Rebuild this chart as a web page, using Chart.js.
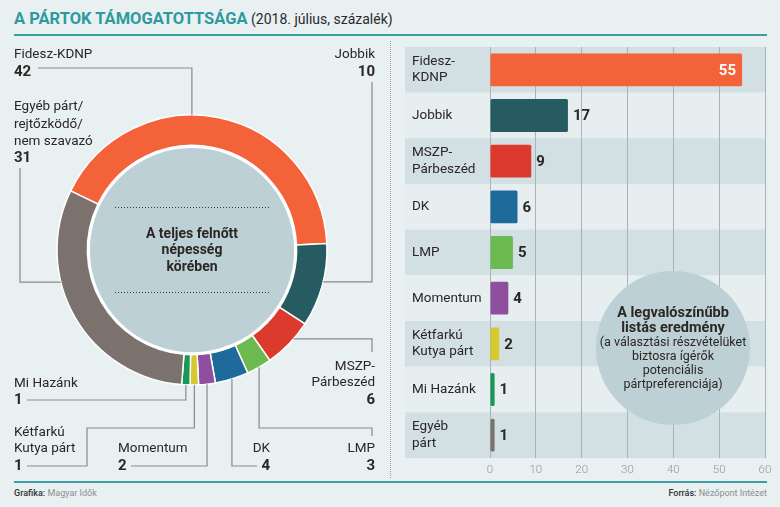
<!DOCTYPE html>
<html><head><meta charset="utf-8">
<script src="https://cdn.jsdelivr.net/npm/chart.js@4/dist/chart.umd.min.js"></script>
<style>
html,body{margin:0;padding:0;}
body{width:780px;height:507px;background:#e9f0f2;position:relative;overflow:hidden;font-family:Roboto,sans-serif;}
#title{position:absolute;left:14px;top:8px;white-space:nowrap;color:#2a2a2a;font-size:14px;line-height:21px;}
#title b{color:#2e9a9d;font-size:16.5px;font-weight:700;letter-spacing:0;}
.rule{position:absolute;left:14px;width:753px;height:2px;background:#3d9ea3;}
#sep{position:absolute;left:390px;top:41px;height:437px;border-left:1px dotted #98a3a6;}
#c1{position:absolute;left:0;top:0;}
#c2{position:absolute;left:390px;top:0;}
.foot{position:absolute;top:488px;font-size:9px;color:#8a8f91;white-space:nowrap;}
.foot b{color:#333;font-weight:500;}
</style></head>
<body>
<div id="title"><b>A PÁRTOK TÁMOGATOTTSÁGA</b> (2018. július, százalék)</div>
<div class="rule" style="top:34px"></div>
<div id="sep"></div>
<canvas id="c1" width="390" height="480"></canvas>
<canvas id="c2" width="390" height="480"></canvas>
<div class="rule" style="top:481px"></div>
<div class="foot" style="left:14px"><b>Grafika:</b> Magyar Idők</div>
<div class="foot" style="right:13px"><b>Forrás:</b> Nézőpont Intézet</div>
<script>
// ---- data ----
const donutNames = ['Fidesz-KDNP','Jobbik','MSZP-Párbeszéd','LMP','DK','Momentum','Kétfarkú Kutya párt','Mi Hazánk','Egyéb párt/rejtőzködő/nem szavazó'];
const donutNameLines = [['Fidesz-KDNP'],['Jobbik'],['MSZP-','Párbeszéd'],['LMP'],['DK'],['Momentum'],['Kétfarkú','Kutya párt'],['Mi Hazánk'],['Egyéb párt/','rejtőzködő/','nem szavazó']];
const donutValues = [42,10,6,3,4,2,1,1,31];
const barLabels = [['Fidesz-','KDNP'],['Jobbik'],['MSZP-','Párbeszéd'],['DK'],['LMP'],['Momentum'],['Kétfarkú','Kutya párt'],['Mi Hazánk'],['Egyéb','párt']];
const barValues = [55,17,9,6,5,4,2,1,1];
const xTicks = [0,10,20,30,40,50,60];
const donutCenterText = ['A teljes felnőtt','népesség','körében'];
const noteBold = ['A legvalószínűbb','listás eredmény'];
const noteText = ['(a választási részvételüket','biztosra ígérők','potenciális','pártpreferenciája)'];

// ---- styles ----
const C = {fidesz:'#f4623a', jobbik:'#265b61', mszp:'#db3a2d', lmp:'#6cb94f', dk:'#1e6a9b', mom:'#8f4f9f', kkp:'#d5c92e', mih:'#17975a', other:'#7b726e'};
const donutColors = [C.fidesz,C.jobbik,C.mszp,C.lmp,C.dk,C.mom,C.kkp,C.mih,C.other];
const barColors = [C.fidesz,C.jobbik,C.mszp,C.dk,C.lmp,C.mom,C.kkp,C.mih,C.other];
const FONT = 'Roboto';
const TXT = '#2b2724';

// leader line layout: fraction along arc, path moves, label position
const leaders = [
 {f:0.423, path:[['v',68],['h',38]], x:14, align:'left', ly:[55], ny:72},
 {f:0.458, path:[['h',372],['v',82]], x:375, align:'right', ly:[55], ny:72},
 {f:0.37, path:[['h',372],['v',352]], x:375, align:'right', ly:[367,383], ny:400},
 {f:0.5, path:[['v',428],['h',372],['v',436]], x:375, align:'right', ly:[449], ny:466},
 {f:0.5, path:[['v',466],['h',257]], x:270, align:'right', ly:[449], ny:466},
 {f:0.5, path:[['v',466],['h',131]], x:118, align:'left', ly:[449], ny:466},
 {f:0.5, path:[['v',428],['h',87],['v',466],['h',27]], x:14, align:'left', ly:[433,449], ny:466},
 {f:0.5, path:[['v',400],['h',27]], x:14, align:'left', ly:[384], ny:400},
 {f:0.644, path:[['h',20],['v',168]], x:14, align:'left', ly:[107,125,142], ny:158}
];

const donutDecor = {
  id:'donutDecor',
  beforeDatasetsDraw(chart){
    const arc = chart.getDatasetMeta(0).data[0];
    const {x,y,innerRadius} = arc.getProps(['x','y','innerRadius'],true);
    const ctx = chart.ctx; ctx.save();
    ctx.fillStyle='#ffffff'; ctx.beginPath(); ctx.arc(x,y,innerRadius,0,Math.PI*2); ctx.fill();
    ctx.fillStyle='#bdd0d5'; ctx.beginPath(); ctx.arc(x,y,innerRadius-2.5,0,Math.PI*2); ctx.fill();
    ctx.restore();
  },
  afterDraw(chart){
    const ctx = chart.ctx; const meta = chart.getDatasetMeta(0);
    ctx.save();
    const a0 = meta.data[0].getProps(['x','y','innerRadius','outerRadius'],true);
    ctx.strokeStyle='#3b3b3b'; ctx.lineWidth=1; ctx.setLineDash([1,2]);
    [-43,42].forEach(dy=>{ctx.beginPath();ctx.moveTo(a0.x-77,a0.y+dy+0.5);ctx.lineTo(a0.x+78,a0.y+dy+0.5);ctx.stroke();});
    ctx.setLineDash([]);
    ctx.fillStyle=TXT; ctx.textAlign='center'; ctx.textBaseline='middle';
    ctx.font='700 14px '+FONT;
    donutCenterText.forEach((t,i)=>ctx.fillText(t,a0.x,a0.y-16+i*16.5));
    ctx.strokeStyle='#858b8d'; ctx.lineWidth=1.2;
    meta.data.forEach((el,i)=>{
      const L = leaders[i];
      const p = el.getProps(['x','y','startAngle','endAngle','outerRadius'],true);
      const ang = p.startAngle + (p.endAngle-p.startAngle)*L.f;
      let cx = p.x + Math.cos(ang)*p.outerRadius, cy = p.y + Math.sin(ang)*p.outerRadius;
      ctx.beginPath(); ctx.moveTo(cx,cy);
      L.path.forEach(([d,v])=>{ if(d==='v') cy=v; else cx=v; ctx.lineTo(cx,cy); });
      ctx.stroke();
      ctx.textAlign=L.align; ctx.fillStyle=TXT;
      ctx.font='400 13.5px '+FONT;
      donutNameLines[i].forEach((t,k)=>ctx.fillText(t,L.x,L.ly[k]));
      ctx.font='700 15px '+FONT;
      ctx.fillText(String(donutValues[i]),L.x,L.ny);
    });
    ctx.restore();
  }
};

new Chart(document.getElementById('c1'),{
  type:'doughnut',
  data:{labels:donutNames,datasets:[{data:donutValues,backgroundColor:donutColors,borderColor:'#ffffff',borderWidth:1.5,radius:135,cutout:'77.5%',rotation:-64}]},
  options:{responsive:false,animation:false,layout:{padding:{left:0,right:6,top:20,bottom:0}},
    plugins:{legend:{display:false},tooltip:{enabled:false}}},
  plugins:[donutDecor]
});

const barDecor = {
  id:'barDecor',
  beforeDraw(chart){
    const ctx=chart.ctx, ys=chart.scales.y, ca=chart.chartArea;
    const h = ys.getPixelForValue(1)-ys.getPixelForValue(0);
    ctx.save();
    barValues.forEach((v,i)=>{
      const yc = ys.getPixelForValue(i);
      ctx.fillStyle = i%2===0 ? '#d2dfe3' : '#e6eef0';
      ctx.fillRect(15, yc-h/2, ca.right-15, h);
    });
    ctx.restore();
  },
  afterDatasetsDraw(chart){
    const ctx=chart.ctx, meta=chart.getDatasetMeta(0);
    ctx.save();
    ctx.font='700 15px '+FONT; ctx.textBaseline='middle';
    meta.data.forEach((b,i)=>{
      if(i===0){ctx.fillStyle='#ffffff';ctx.textAlign='right';ctx.fillText(String(barValues[i]),b.x-6,b.y+1);}
      else {ctx.fillStyle=TXT;ctx.textAlign='left';ctx.fillText(String(barValues[i]),b.x+5,b.y+1);}
    });
    const cx=283, cy=348;
    ctx.fillStyle='#bdd0d5'; ctx.beginPath(); ctx.arc(cx,cy,77,0,Math.PI*2); ctx.fill();
    ctx.fillStyle=TXT; ctx.textAlign='center';
    ctx.font='700 14.5px '+FONT;
    noteBold.forEach((t,i)=>ctx.fillText(t,cx,313+i*15.5));
    ctx.font='400 12.5px '+FONT;
    noteText.forEach((t,i)=>ctx.fillText(t,cx,343+i*14));
    ctx.restore();
  }
};

new Chart(document.getElementById('c2'),{
  type:'bar',
  data:{labels:barLabels,datasets:[{data:barValues,backgroundColor:barColors,barPercentage:0.72,categoryPercentage:1,borderRadius:1.5,borderSkipped:false}]},
  options:{indexAxis:'y',responsive:false,animation:false,
    layout:{padding:{top:47,right:15,left:22,bottom:0}},
    scales:{
      x:{min:0,max:60,afterBuildTicks(s){s.ticks=xTicks.map(v=>({value:v}));},
         ticks:{color:'#8d979b',font:{family:FONT,size:11.5,weight:300},padding:5},
         grid:{color:'#a9b4b8',lineWidth:1,drawTicks:false},border:{display:false},
         afterFit(s){s.height=22;}},
      y:{ticks:{crossAlign:'far',color:TXT,font:{family:FONT,size:13.5,lineHeight:1.2}},
         grid:{display:false},border:{display:false},afterFit(s){s.width=78;}}
    },
    plugins:{legend:{display:false},tooltip:{enabled:false}}},
  plugins:[barDecor]
});
</script>
</body></html>
